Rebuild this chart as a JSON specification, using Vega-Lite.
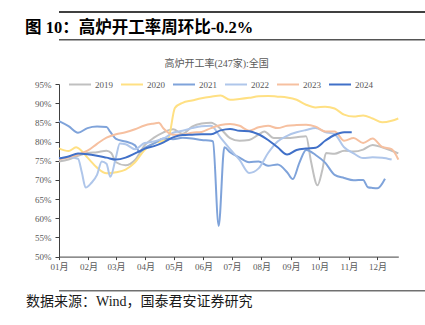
{
  "$schema": "https://vega.github.io/schema/vega-lite/v6.json",
  "padding": {"left": 0, "top": 11, "right": 0, "bottom": 0},
  "background": "white",
  "spacing": 6,
  "columns": 1,
  "align": "none",
  "resolve": {"legend": {"color": "independent", "strokeWidth": "independent"}},
  "config": {
    "font": "Liberation Serif, Noto Sans CJK SC",
    "view": {"stroke": null},
    "title": {"font": "Liberation Serif, Noto Sans CJK SC"}
  },
  "datasets": {
    "seps": [{"x0": 0, "x1": 1, "y0": 0, "y1": 1}],
    "rates": [
      {"year": "2019", "date": "2000-01-01", "rate": 74.8},
      {"year": "2019", "date": "2000-01-11", "rate": 75.3},
      {"year": "2019", "date": "2000-01-21", "rate": 76.3},
      {"year": "2019", "date": "2000-01-31", "rate": 77.0},
      {"year": "2019", "date": "2000-02-10", "rate": 77.2},
      {"year": "2019", "date": "2000-02-20", "rate": 77.6},
      {"year": "2019", "date": "2000-02-25", "rate": 77.0},
      {"year": "2019", "date": "2000-03-01", "rate": 74.6},
      {"year": "2019", "date": "2000-03-11", "rate": 73.8},
      {"year": "2019", "date": "2000-03-21", "rate": 75.2},
      {"year": "2019", "date": "2000-03-31", "rate": 79.0},
      {"year": "2019", "date": "2000-04-10", "rate": 81.0},
      {"year": "2019", "date": "2000-04-20", "rate": 82.4},
      {"year": "2019", "date": "2000-04-30", "rate": 83.2},
      {"year": "2019", "date": "2000-05-10", "rate": 82.0},
      {"year": "2019", "date": "2000-05-20", "rate": 83.9},
      {"year": "2019", "date": "2000-05-30", "rate": 84.7},
      {"year": "2019", "date": "2000-06-09", "rate": 84.9},
      {"year": "2019", "date": "2000-06-19", "rate": 83.3},
      {"year": "2019", "date": "2000-06-29", "rate": 80.9},
      {"year": "2019", "date": "2000-07-09", "rate": 80.2},
      {"year": "2019", "date": "2000-07-19", "rate": 80.4},
      {"year": "2019", "date": "2000-07-29", "rate": 81.8},
      {"year": "2019", "date": "2000-08-04", "rate": 82.6},
      {"year": "2019", "date": "2000-08-14", "rate": 80.9},
      {"year": "2019", "date": "2000-08-28", "rate": 80.9},
      {"year": "2019", "date": "2000-09-07", "rate": 81.1},
      {"year": "2019", "date": "2000-09-17", "rate": 81.4},
      {"year": "2019", "date": "2000-09-22", "rate": 75.0},
      {"year": "2019", "date": "2000-09-29", "rate": 68.6},
      {"year": "2019", "date": "2000-10-04", "rate": 72.5},
      {"year": "2019", "date": "2000-10-08", "rate": 77.0},
      {"year": "2019", "date": "2000-10-17", "rate": 76.8},
      {"year": "2019", "date": "2000-10-27", "rate": 77.6},
      {"year": "2019", "date": "2000-11-06", "rate": 77.4},
      {"year": "2019", "date": "2000-11-16", "rate": 77.9},
      {"year": "2019", "date": "2000-11-26", "rate": 79.1},
      {"year": "2019", "date": "2000-12-06", "rate": 78.5},
      {"year": "2019", "date": "2000-12-16", "rate": 77.6},
      {"year": "2019", "date": "2000-12-23", "rate": 76.9},

      {"year": "2020", "date": "2000-01-01", "rate": 78.2},
      {"year": "2020", "date": "2000-01-11", "rate": 77.5},
      {"year": "2020", "date": "2000-01-19", "rate": 78.5},
      {"year": "2020", "date": "2000-01-31", "rate": 75.8},
      {"year": "2020", "date": "2000-02-10", "rate": 73.2},
      {"year": "2020", "date": "2000-02-20", "rate": 71.7},
      {"year": "2020", "date": "2000-03-01", "rate": 72.0},
      {"year": "2020", "date": "2000-03-11", "rate": 72.7},
      {"year": "2020", "date": "2000-03-21", "rate": 74.6},
      {"year": "2020", "date": "2000-03-31", "rate": 77.8},
      {"year": "2020", "date": "2000-04-10", "rate": 79.6},
      {"year": "2020", "date": "2000-04-20", "rate": 80.2},
      {"year": "2020", "date": "2000-04-25", "rate": 80.8},
      {"year": "2020", "date": "2000-05-02", "rate": 88.8},
      {"year": "2020", "date": "2000-05-10", "rate": 90.1},
      {"year": "2020", "date": "2000-05-20", "rate": 90.7},
      {"year": "2020", "date": "2000-05-30", "rate": 91.3},
      {"year": "2020", "date": "2000-06-09", "rate": 91.7},
      {"year": "2020", "date": "2000-06-19", "rate": 92.0},
      {"year": "2020", "date": "2000-06-29", "rate": 90.9},
      {"year": "2020", "date": "2000-07-09", "rate": 91.1},
      {"year": "2020", "date": "2000-07-19", "rate": 91.4},
      {"year": "2020", "date": "2000-07-29", "rate": 91.8},
      {"year": "2020", "date": "2000-08-08", "rate": 91.9},
      {"year": "2020", "date": "2000-08-18", "rate": 91.7},
      {"year": "2020", "date": "2000-08-28", "rate": 91.5},
      {"year": "2020", "date": "2000-09-07", "rate": 90.9},
      {"year": "2020", "date": "2000-09-17", "rate": 89.6},
      {"year": "2020", "date": "2000-09-27", "rate": 88.9},
      {"year": "2020", "date": "2000-10-07", "rate": 89.1},
      {"year": "2020", "date": "2000-10-17", "rate": 88.6},
      {"year": "2020", "date": "2000-10-27", "rate": 87.0},
      {"year": "2020", "date": "2000-11-06", "rate": 86.5},
      {"year": "2020", "date": "2000-11-16", "rate": 86.8},
      {"year": "2020", "date": "2000-11-26", "rate": 86.0},
      {"year": "2020", "date": "2000-12-06", "rate": 85.0},
      {"year": "2020", "date": "2000-12-16", "rate": 85.4},
      {"year": "2020", "date": "2000-12-23", "rate": 86.0},

      {"year": "2021", "date": "2000-01-01", "rate": 85.3},
      {"year": "2021", "date": "2000-01-11", "rate": 84.0},
      {"year": "2021", "date": "2000-01-21", "rate": 82.3},
      {"year": "2021", "date": "2000-01-31", "rate": 83.5},
      {"year": "2021", "date": "2000-02-10", "rate": 83.9},
      {"year": "2021", "date": "2000-02-20", "rate": 83.8},
      {"year": "2021", "date": "2000-02-24", "rate": 82.5},
      {"year": "2021", "date": "2000-03-01", "rate": 80.7},
      {"year": "2021", "date": "2000-03-11", "rate": 80.0},
      {"year": "2021", "date": "2000-03-21", "rate": 79.0},
      {"year": "2021", "date": "2000-03-26", "rate": 77.3},
      {"year": "2021", "date": "2000-03-31", "rate": 78.3},
      {"year": "2021", "date": "2000-04-10", "rate": 79.5},
      {"year": "2021", "date": "2000-04-20", "rate": 80.8},
      {"year": "2021", "date": "2000-04-30", "rate": 80.6},
      {"year": "2021", "date": "2000-05-10", "rate": 81.0},
      {"year": "2021", "date": "2000-05-20", "rate": 80.8},
      {"year": "2021", "date": "2000-05-30", "rate": 80.4},
      {"year": "2021", "date": "2000-06-09", "rate": 80.2},
      {"year": "2021", "date": "2000-06-11", "rate": 80.0},
      {"year": "2021", "date": "2000-06-17", "rate": 58.0},
      {"year": "2021", "date": "2000-06-23", "rate": 78.5},
      {"year": "2021", "date": "2000-06-29", "rate": 77.2},
      {"year": "2021", "date": "2000-07-09", "rate": 75.8},
      {"year": "2021", "date": "2000-07-19", "rate": 74.6},
      {"year": "2021", "date": "2000-07-29", "rate": 74.8},
      {"year": "2021", "date": "2000-08-08", "rate": 73.7},
      {"year": "2021", "date": "2000-08-18", "rate": 74.0},
      {"year": "2021", "date": "2000-08-28", "rate": 72.0},
      {"year": "2021", "date": "2000-09-03", "rate": 70.2},
      {"year": "2021", "date": "2000-09-10", "rate": 74.5},
      {"year": "2021", "date": "2000-09-17", "rate": 77.8},
      {"year": "2021", "date": "2000-09-27", "rate": 76.5},
      {"year": "2021", "date": "2000-10-07", "rate": 74.5},
      {"year": "2021", "date": "2000-10-17", "rate": 71.3},
      {"year": "2021", "date": "2000-10-27", "rate": 70.5},
      {"year": "2021", "date": "2000-11-06", "rate": 69.9},
      {"year": "2021", "date": "2000-11-16", "rate": 70.0},
      {"year": "2021", "date": "2000-11-21", "rate": 68.1},
      {"year": "2021", "date": "2000-11-26", "rate": 67.9},
      {"year": "2021", "date": "2000-12-01", "rate": 67.8},
      {"year": "2021", "date": "2000-12-09", "rate": 70.3},

      {"year": "2022", "date": "2000-01-01", "rate": 75.6},
      {"year": "2022", "date": "2000-01-11", "rate": 75.9},
      {"year": "2022", "date": "2000-01-21", "rate": 75.5},
      {"year": "2022", "date": "2000-01-25", "rate": 72.0},
      {"year": "2022", "date": "2000-01-29", "rate": 68.0},
      {"year": "2022", "date": "2000-02-04", "rate": 69.2},
      {"year": "2022", "date": "2000-02-10", "rate": 71.3},
      {"year": "2022", "date": "2000-02-15", "rate": 74.8},
      {"year": "2022", "date": "2000-02-20", "rate": 74.2},
      {"year": "2022", "date": "2000-02-24", "rate": 70.8},
      {"year": "2022", "date": "2000-03-01", "rate": 76.0},
      {"year": "2022", "date": "2000-03-05", "rate": 79.5},
      {"year": "2022", "date": "2000-03-11", "rate": 79.3},
      {"year": "2022", "date": "2000-03-21", "rate": 78.0},
      {"year": "2022", "date": "2000-03-31", "rate": 79.6},
      {"year": "2022", "date": "2000-04-10", "rate": 80.0},
      {"year": "2022", "date": "2000-04-20", "rate": 80.8},
      {"year": "2022", "date": "2000-04-30", "rate": 82.3},
      {"year": "2022", "date": "2000-05-10", "rate": 82.8},
      {"year": "2022", "date": "2000-05-20", "rate": 83.5},
      {"year": "2022", "date": "2000-05-30", "rate": 84.0},
      {"year": "2022", "date": "2000-06-09", "rate": 84.1},
      {"year": "2022", "date": "2000-06-19", "rate": 81.0},
      {"year": "2022", "date": "2000-06-29", "rate": 78.0},
      {"year": "2022", "date": "2000-07-09", "rate": 75.2},
      {"year": "2022", "date": "2000-07-19", "rate": 71.8},
      {"year": "2022", "date": "2000-07-29", "rate": 73.0},
      {"year": "2022", "date": "2000-08-08", "rate": 77.0},
      {"year": "2022", "date": "2000-08-18", "rate": 80.0},
      {"year": "2022", "date": "2000-08-28", "rate": 81.5},
      {"year": "2022", "date": "2000-09-07", "rate": 82.4},
      {"year": "2022", "date": "2000-09-17", "rate": 83.0},
      {"year": "2022", "date": "2000-09-27", "rate": 83.5},
      {"year": "2022", "date": "2000-10-07", "rate": 82.5},
      {"year": "2022", "date": "2000-10-17", "rate": 81.9},
      {"year": "2022", "date": "2000-10-27", "rate": 78.5},
      {"year": "2022", "date": "2000-11-06", "rate": 76.9},
      {"year": "2022", "date": "2000-11-16", "rate": 75.7},
      {"year": "2022", "date": "2000-11-26", "rate": 75.9},
      {"year": "2022", "date": "2000-12-06", "rate": 75.8},
      {"year": "2022", "date": "2000-12-16", "rate": 75.3},

      {"year": "2023", "date": "2000-01-01", "rate": 75.3},
      {"year": "2023", "date": "2000-01-11", "rate": 75.9},
      {"year": "2023", "date": "2000-01-21", "rate": 76.6},
      {"year": "2023", "date": "2000-01-31", "rate": 77.6},
      {"year": "2023", "date": "2000-02-10", "rate": 79.4},
      {"year": "2023", "date": "2000-02-20", "rate": 81.0},
      {"year": "2023", "date": "2000-03-01", "rate": 81.9},
      {"year": "2023", "date": "2000-03-11", "rate": 82.4},
      {"year": "2023", "date": "2000-03-21", "rate": 83.2},
      {"year": "2023", "date": "2000-03-31", "rate": 84.2},
      {"year": "2023", "date": "2000-04-10", "rate": 84.7},
      {"year": "2023", "date": "2000-04-15", "rate": 84.9},
      {"year": "2023", "date": "2000-04-20", "rate": 83.4},
      {"year": "2023", "date": "2000-04-30", "rate": 81.8},
      {"year": "2023", "date": "2000-05-10", "rate": 81.8},
      {"year": "2023", "date": "2000-05-20", "rate": 82.3},
      {"year": "2023", "date": "2000-05-30", "rate": 82.5},
      {"year": "2023", "date": "2000-06-09", "rate": 83.5},
      {"year": "2023", "date": "2000-06-19", "rate": 84.3},
      {"year": "2023", "date": "2000-06-29", "rate": 84.6},
      {"year": "2023", "date": "2000-07-09", "rate": 84.1},
      {"year": "2023", "date": "2000-07-19", "rate": 82.8},
      {"year": "2023", "date": "2000-07-29", "rate": 83.7},
      {"year": "2023", "date": "2000-08-08", "rate": 84.1},
      {"year": "2023", "date": "2000-08-18", "rate": 83.5},
      {"year": "2023", "date": "2000-08-28", "rate": 84.1},
      {"year": "2023", "date": "2000-09-07", "rate": 84.3},
      {"year": "2023", "date": "2000-09-17", "rate": 84.4},
      {"year": "2023", "date": "2000-09-27", "rate": 83.9},
      {"year": "2023", "date": "2000-10-07", "rate": 82.6},
      {"year": "2023", "date": "2000-10-17", "rate": 82.6},
      {"year": "2023", "date": "2000-10-27", "rate": 80.2},
      {"year": "2023", "date": "2000-11-06", "rate": 80.9},
      {"year": "2023", "date": "2000-11-16", "rate": 79.6},
      {"year": "2023", "date": "2000-11-26", "rate": 80.8},
      {"year": "2023", "date": "2000-12-06", "rate": 78.6},
      {"year": "2023", "date": "2000-12-16", "rate": 78.0},
      {"year": "2023", "date": "2000-12-23", "rate": 75.3},

      {"year": "2024", "date": "2000-01-01", "rate": 75.6},
      {"year": "2024", "date": "2000-01-11", "rate": 76.1},
      {"year": "2024", "date": "2000-01-21", "rate": 76.9},
      {"year": "2024", "date": "2000-01-31", "rate": 76.7},
      {"year": "2024", "date": "2000-02-10", "rate": 76.3},
      {"year": "2024", "date": "2000-02-20", "rate": 75.8},
      {"year": "2024", "date": "2000-03-01", "rate": 75.3},
      {"year": "2024", "date": "2000-03-11", "rate": 75.8},
      {"year": "2024", "date": "2000-03-21", "rate": 76.9},
      {"year": "2024", "date": "2000-03-31", "rate": 78.1},
      {"year": "2024", "date": "2000-04-10", "rate": 78.8},
      {"year": "2024", "date": "2000-04-20", "rate": 79.8},
      {"year": "2024", "date": "2000-04-30", "rate": 81.1},
      {"year": "2024", "date": "2000-05-10", "rate": 81.7},
      {"year": "2024", "date": "2000-05-20", "rate": 81.8},
      {"year": "2024", "date": "2000-05-30", "rate": 81.9},
      {"year": "2024", "date": "2000-06-09", "rate": 81.9},
      {"year": "2024", "date": "2000-06-19", "rate": 82.9},
      {"year": "2024", "date": "2000-06-29", "rate": 83.3},
      {"year": "2024", "date": "2000-07-09", "rate": 82.8},
      {"year": "2024", "date": "2000-07-19", "rate": 82.7},
      {"year": "2024", "date": "2000-07-29", "rate": 81.9},
      {"year": "2024", "date": "2000-08-08", "rate": 80.4},
      {"year": "2024", "date": "2000-08-18", "rate": 78.5},
      {"year": "2024", "date": "2000-08-28", "rate": 76.6},
      {"year": "2024", "date": "2000-09-07", "rate": 77.8},
      {"year": "2024", "date": "2000-09-17", "rate": 78.2},
      {"year": "2024", "date": "2000-09-27", "rate": 78.4},
      {"year": "2024", "date": "2000-10-07", "rate": 80.2},
      {"year": "2024", "date": "2000-10-17", "rate": 81.7},
      {"year": "2024", "date": "2000-10-27", "rate": 82.4},
      {"year": "2024", "date": "2000-11-04", "rate": 82.4}
    ]
  },
  "concat": [
    {
      "width": 418,
      "height": 2,
      "data": {"name": "seps"},
      "mark": {"type": "rect", "color": "#404040"},
      "encoding": {
        "x": {"field": "x0", "type": "quantitative", "scale": {"domain": [0, 1]}, "axis": null},
        "x2": {"field": "x1"},
        "y": {"field": "y0", "type": "quantitative", "scale": {"domain": [0, 1]}, "axis": null},
        "y2": {"field": "y1"}
      }
    },
    {
      "width": 418,
      "height": 1.5,
      "title": {
        "text": "图 10：高炉开工率周环比-0.2%",
        "anchor": "start",
        "frame": "group",
        "fontSize": 16.5,
        "fontWeight": "bold",
        "color": "#000000",
        "dx": -34,
        "offset": 3
      },
      "data": {"name": "seps"},
      "mark": {"type": "rect", "color": "#555555"},
      "encoding": {
        "x": {"field": "x0", "type": "quantitative", "scale": {"domain": [0, 1]}, "axis": null},
        "x2": {"field": "x1"},
        "y": {"field": "y0", "type": "quantitative", "scale": {"domain": [0, 1]}, "axis": null},
        "y2": {"field": "y1"}
      }
    },
    {
      "width": 339.3,
      "height": 172.6,
      "title": {
        "text": ["", "高炉开工率(247家):全国"],
        "fontSize": 10,
        "fontWeight": "normal",
        "color": "#595959",
        "lineHeight": 11.5,
        "offset": 3.5,
        "anchor": "middle",
        "frame": "group",
        "dx": -12
      },
      "data": {"name": "rates"},
      "mark": {"type": "line", "interpolate": "monotone"},
      "encoding": {
        "x": {
          "field": "date",
          "type": "temporal",
          "scale": {
            "type": "utc",
            "domain": [
              {"year": 2000, "month": 1, "date": 1, "utc": true},
              {"year": 2000, "month": 12, "date": 23, "utc": true}
            ]
          },
          "axis": {
            "values": [
              {"year": 2000, "month": 1, "date": 1, "utc": true},
              {"year": 2000, "month": 2, "date": 1, "utc": true},
              {"year": 2000, "month": 3, "date": 1, "utc": true},
              {"year": 2000, "month": 4, "date": 1, "utc": true},
              {"year": 2000, "month": 5, "date": 1, "utc": true},
              {"year": 2000, "month": 6, "date": 1, "utc": true},
              {"year": 2000, "month": 7, "date": 1, "utc": true},
              {"year": 2000, "month": 8, "date": 1, "utc": true},
              {"year": 2000, "month": 9, "date": 1, "utc": true},
              {"year": 2000, "month": 10, "date": 1, "utc": true},
              {"year": 2000, "month": 11, "date": 1, "utc": true},
              {"year": 2000, "month": 12, "date": 1, "utc": true}
            ],
            "format": "%m月",
            "grid": false,
            "domainColor": "#404040",
            "tickColor": "#404040",
            "tickSize": 3,
            "labelFontSize": 9,
            "labelColor": "#595959",
            "labelPadding": 3,
            "labelFlush": false,
            "labelOverlap": false,
            "title": " ",
            "titleFontSize": 9,
            "titlePadding": 3
          }
        },
        "y": {
          "field": "rate",
          "type": "quantitative",
          "scale": {"domain": [50, 95], "nice": false, "zero": false},
          "axis": {
            "values": [50, 55, 60, 65, 70, 75, 80, 85, 90, 95],
            "labelExpr": "datum.value + '%'",
            "grid": false,
            "domainColor": "#404040",
            "tickColor": "#404040",
            "tickSize": 4,
            "labelFontSize": 9,
            "labelColor": "#595959",
            "labelPadding": 4,
            "title": null,
            "minExtent": 58.7
          }
        },
        "color": {
          "field": "year",
          "type": "nominal",
          "scale": {
            "domain": ["2019", "2020", "2021", "2022", "2023", "2024"],
            "range": ["#C0C0C0", "#FFE083", "#7FA3DA", "#AFC6EA", "#F6C0A0", "#4070C8"]
          },
          "legend": {
            "title": null,
            "orient": "none",
            "legendX": 9,
            "legendY": -11.5,
            "direction": "horizontal",
            "symbolType": "stroke",
            "symbolSize": 484,
            "symbolStrokeWidth": 2.5,
            "labelFontSize": 9,
            "labelColor": "#595959",
            "labelOffset": 3,
            "columnPadding": 4
          }
        },
        "strokeWidth": {
          "field": "year",
          "type": "nominal",
          "scale": {
            "domain": ["2019", "2020", "2021", "2022", "2023", "2024"],
            "range": [2, 2, 2, 2, 2, 3.2]
          },
          "legend": null
        }
      }
    },
    {
      "width": 418,
      "height": 1.5,
      "title": {
        "text": "数据来源：Wind，国泰君安证券研究",
        "orient": "bottom",
        "anchor": "start",
        "frame": "group",
        "fontSize": 14,
        "fontWeight": "normal",
        "color": "#1a1a1a",
        "dx": -33,
        "offset": 3
      },
      "data": {"name": "seps"},
      "mark": {"type": "rect", "color": "#707070"},
      "encoding": {
        "x": {"field": "x0", "type": "quantitative", "scale": {"domain": [0, 1]}, "axis": null},
        "x2": {"field": "x1"},
        "y": {"field": "y0", "type": "quantitative", "scale": {"domain": [0, 1]}, "axis": null},
        "y2": {"field": "y1"}
      }
    }
  ]
}
